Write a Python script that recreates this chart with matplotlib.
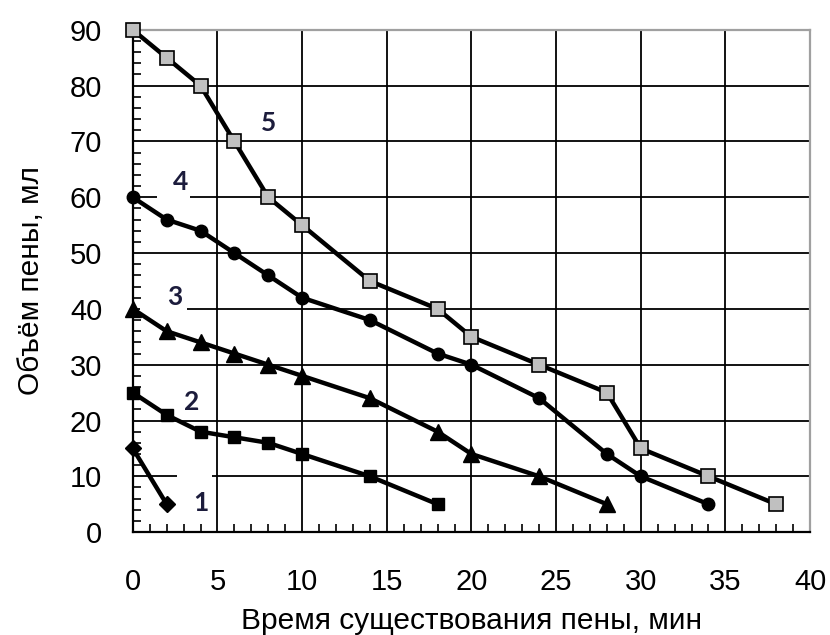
import matplotlib

matplotlib.use("Agg")
import matplotlib.pyplot as plt
from matplotlib.ticker import MultipleLocator

plt.rcParams["font.family"] = ["Liberation Sans", "DejaVu Sans"]

# foam volume (ml) vs foam lifetime (min), curves 1..5
t1 = [0, 2]
v1 = [15, 5]
t2 = [0, 2, 4, 6, 8, 10, 14, 18]
v2 = [25, 21, 18, 17, 16, 14, 10, 5]
t3 = [0, 2, 4, 6, 8, 10, 14, 18, 20, 24, 28]
v3 = [40, 36, 34, 32, 30, 28, 24, 18, 14, 10, 5]
t4 = [0, 2, 4, 6, 8, 10, 14, 18, 20, 24, 28, 30, 34]
v4 = [60, 56, 54, 50, 46, 42, 38, 32, 30, 24, 14, 10, 5]
t5 = [0, 2, 4, 6, 8, 10, 14, 18, 20, 24, 28, 30, 34, 38]
v5 = [90, 85, 80, 70, 60, 55, 45, 40, 35, 30, 25, 15, 10, 5]

curve_names = ["1", "2", "3", "4", "5"]
# where the curve numbers sit (x, y)
name_pos = [(4.0, 5.2), (3.5, 23.3), (2.5, 42.2), (2.8, 62.8), (8.0, 73.3)]
# pieces of grid hidden behind the number boxes: (y, x0, x1)
grid_gaps = [(10, 2.6, 4.7), (40, 0.4, 3.2), (60, 1.4, 3.4)]

fig = plt.figure(figsize=(8.3, 6.35), dpi=100)
ax = fig.add_axes([0.160, 0.162, 0.816, 0.791])

lw = 3.2
common = dict(color="black", lw=lw, zorder=3, clip_on=False)
ax.plot(t1, v1, marker="D", ms=8.5, mfc="black", mec="black", **common)
ax.plot(t2, v2, marker="s", ms=9.3, mfc="black", mec="black", **common)
ax.plot(t3, v3, marker="^", ms=11, mfc="black", mec="black", **common)
ax.plot(t4, v4, marker="o", ms=9, mfc="black", mec="black", **common)
ax.plot(t5, v5, marker="s", ms=9.5, mfc="#c0c0c0", mec="black", mew=1.2, **common)

for y, x0, x1 in grid_gaps:
    ax.plot([x0, x1], [y, y], color="white", lw=3, zorder=1.5, solid_capstyle="butt")

for name, (x, y) in zip(curve_names, name_pos):
    ax.text(x, y, name, ha="center", va="center", fontsize=19, fontweight="bold",
            family=["Lato", "DejaVu Sans"], color="#1c1c3c", zorder=2)

ax.set_xlim(0, 40)
ax.set_ylim(0, 90)
ax.xaxis.set_major_locator(MultipleLocator(5))
ax.xaxis.set_minor_locator(MultipleLocator(1))
ax.yaxis.set_major_locator(MultipleLocator(10))
ax.yaxis.set_minor_locator(MultipleLocator(2))
ax.set_axisbelow(True)
ax.grid(which="major", color="black", lw=1.3)
ax.tick_params(which="both", direction="in", labelsize=21, colors="black")
ax.tick_params(which="major", length=0)
ax.tick_params(which="minor", length=6, width=1.2)
ax.tick_params(axis="x", which="major", pad=26)
ax.tick_params(axis="y", which="major", pad=22)

for side in ("left", "bottom"):
    ax.spines[side].set_color("black")
    ax.spines[side].set_linewidth(1.6)
for side in ("top", "right"):
    ax.spines[side].set_color("#a0a0a0")
    ax.spines[side].set_linewidth(1.6)

ax.set_xlabel("Время существования пены, мин", fontsize=21.5, labelpad=8)
ax.set_ylabel("Объём пены, мл", fontsize=21.5, labelpad=18)

fig.savefig("out.png", dpi=100)
